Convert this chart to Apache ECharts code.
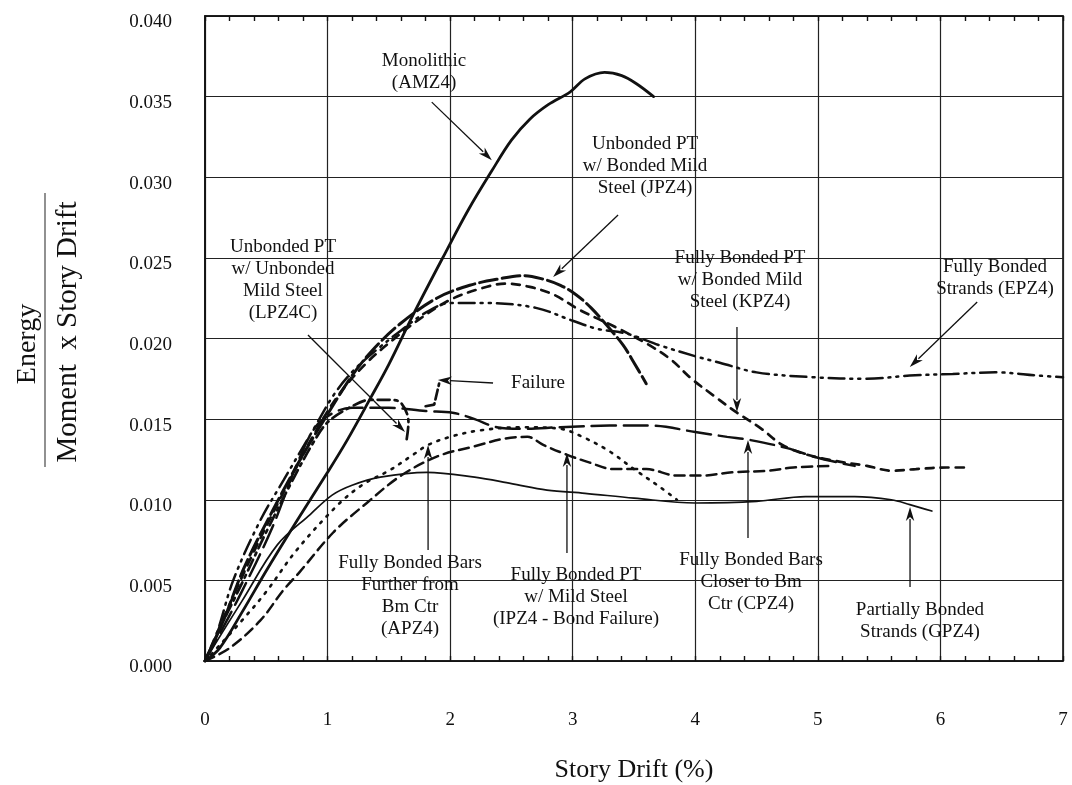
<!DOCTYPE html>
<html><head><meta charset="utf-8">
<script src="https://cdn.jsdelivr.net/npm/echarts@6/dist/echarts.min.js"></script>
<style>html,body{margin:0;padding:0;background:#fff}#c{width:1072px;height:785px}</style>
</head><body><div id="c"></div>
<script>
// ---- tick labels ----
const xTickLabels = ['0','1','2','3','4','5','6','7'];
const yTickLabels = ['0.000','0.005','0.010','0.015','0.020','0.025','0.030','0.035','0.040'];

// ---- series data [story drift %, energy ratio] ----
const AMZ4 = [[0,0],[0.12,0.0008],[0.3,0.003],[0.5,0.0056],[0.75,0.0087],[1.0,0.0117],[1.16,0.0137],[1.35,0.0163],[1.5,0.0184],[1.7,0.0215],[1.96,0.0253],[2.15,0.028],[2.34,0.0304],[2.5,0.0323],[2.65,0.0336],[2.8,0.0345],[2.98,0.0353],[3.1,0.0361],[3.26,0.0365],[3.4,0.0363],[3.52,0.0358],[3.66,0.035]];
const GPZ4 = [[0,0],[0.07,0.0009],[0.3,0.0037],[0.59,0.0072],[0.86,0.0091],[1.04,0.0103],[1.2,0.0109],[1.43,0.0114],[1.81,0.0117],[2.2,0.0114],[2.5,0.011],[2.79,0.0106],[3.1,0.0104],[3.5,0.0101],[4.0,0.0098],[4.5,0.0099],[4.9,0.0102],[5.3,0.0102],[5.6,0.0100],[5.75,0.0097],[5.93,0.0093]];
const JPZ4 = [[0,0],[0.15,0.0025],[0.32,0.0058],[0.55,0.0093],[0.8,0.0128],[1.0,0.0153],[1.2,0.0177],[1.37,0.0193],[1.59,0.0209],[1.89,0.0225],[2.16,0.0233],[2.4,0.0237],[2.6,0.0239],[2.75,0.0237],[2.9,0.0233],[3.03,0.0227],[3.15,0.0219],[3.28,0.0208],[3.41,0.0196],[3.5,0.0185],[3.6,0.0172]];
const KPZ4 = [[0,0],[0.2,0.0035],[0.4,0.0068],[0.65,0.0106],[0.9,0.0142],[1.1,0.0166],[1.32,0.0185],[1.53,0.0199],[1.75,0.0212],[2.0,0.0224],[2.25,0.0231],[2.45,0.0234],[2.65,0.0232],[2.85,0.0227],[3.05,0.0218],[3.35,0.0207],[3.6,0.0197],[3.8,0.0187],[3.97,0.0175],[4.16,0.0164],[4.34,0.0154],[4.54,0.0144],[4.71,0.0134],[4.91,0.0128],[5.15,0.0124],[5.4,0.0121],[5.6,0.0118],[5.8,0.0119],[6.05,0.0120],[6.22,0.0120]];
const EPZ4 = [[0,0],[0.1,0.0018],[0.23,0.005],[0.45,0.0087],[0.64,0.0112],[0.88,0.0143],[1.05,0.0165],[1.21,0.018],[1.4,0.0193],[1.6,0.0205],[1.8,0.0216],[2.0,0.0222],[2.3,0.0222],[2.7,0.0219],[3.0,0.0211],[3.2,0.0206],[3.44,0.0203],[3.7,0.0196],[4.0,0.0189],[4.2,0.0185],[4.5,0.0179],[4.96,0.0176],[5.4,0.0175],[5.75,0.0177],[6.1,0.0178],[6.45,0.0179],[6.8,0.0177],[7.0,0.0176]];
const LPZ4C = [[0,0],[0.12,0.002],[0.3,0.0048],[0.5,0.008],[0.7,0.011],[0.88,0.0135],[1.0,0.0148],[1.2,0.0158],[1.35,0.0162],[1.5,0.0162],[1.6,0.016],[1.66,0.0148],[1.64,0.0135]];
const LPZ4C_FAIL = [[1.80,0.0158],[1.87,0.0159],[1.91,0.0172]];
const CPZ4 = [[0,0],[0.1,0.0014],[0.3,0.0043],[0.55,0.0083],[0.75,0.0122],[0.9,0.0145],[1.05,0.0154],[1.2,0.0157],[1.5,0.0157],[1.8,0.0155],[2.02,0.0154],[2.2,0.015],[2.38,0.0145],[2.6,0.0144],[2.9,0.0145],[3.3,0.0146],[3.64,0.0146],[4.0,0.0142],[4.26,0.0139],[4.45,0.0137],[4.75,0.0132],[5.0,0.0126],[5.3,0.0121]];
const APZ4 = [[0,0],[0.3,0.0025],[0.5,0.0043],[0.75,0.0069],[1.1,0.0098],[1.3,0.011],[1.5,0.0118],[1.7,0.0128],[1.82,0.0134],[2.0,0.0139],[2.24,0.0143],[2.6,0.0145],[2.9,0.0144],[3.08,0.0139],[3.3,0.013],[3.5,0.0119],[3.71,0.0108],[3.85,0.0100]];
const IPZ4 = [[0,0],[0.2,0.0008],[0.45,0.0025],[0.64,0.0044],[0.77,0.0055],[1.05,0.008],[1.32,0.0098],[1.6,0.0115],[1.9,0.0127],[2.19,0.0133],[2.45,0.0138],[2.63,0.0139],[2.76,0.0134],[2.95,0.0128],[3.14,0.0123],[3.33,0.0119],[3.6,0.0119],[3.85,0.0115],[4.05,0.0115],[4.3,0.0117],[4.6,0.0118],[4.8,0.012],[5.1,0.0121]];

// ---- annotation texts and anchors (data coordinates) ----
const noteTexts = [
  'Monolithic\n(AMZ4)',
  'Unbonded PT\nw/ Bonded Mild\nSteel (JPZ4)',
  'Unbonded PT\nw/ Unbonded\nMild Steel\n(LPZ4C)',
  'Failure',
  'Fully Bonded PT\nw/ Bonded Mild\nSteel (KPZ4)',
  'Fully Bonded\nStrands (EPZ4)',
  'Fully Bonded Bars\nFurther from\nBm Ctr\n(APZ4)',
  'Fully Bonded PT\nw/ Mild Steel\n(IPZ4 - Bond Failure)',
  'Fully Bonded Bars\nCloser to Bm\nCtr (CPZ4)',
  'Partially Bonded\nStrands (GPZ4)'
];
const noteAt = [[1.787,0.0365],[3.59,0.0307],[0.636,0.02365],[2.717,0.01724],[4.365,0.02365],[6.445,0.02378],[1.673,0.00402],[3.027,0.00399],[4.455,0.00492],[5.833,0.0025]];
const arrowFrom = [[1.85,0.03466],[3.37,0.02766],[0.84,0.02022],[2.35,0.01724],[4.34,0.02071],[6.30,0.02226],[1.82,0.00688],[2.953,0.0067],[4.43,0.00763],[5.752,0.00459]];
const arrowTo = [[2.34,0.03106],[2.84,0.02381],[1.632,0.0142],[1.90,0.01743],[4.34,0.01544],[5.75,0.01823],[1.82,0.0134],[2.953,0.0129],[4.43,0.0137],[5.752,0.00955]];

const FONT = '"Liberation Serif","Times New Roman",serif';
const INK = '#111';
const chart = echarts.init(document.getElementById('c'), null, {renderer:'canvas'});

function mk(name, data, width, type, smooth){
  return {name, type:'line', data, showSymbol:false, symbol:'none', smooth: smooth===undefined?0.35:smooth,
    lineStyle:{color:INK, width, type, cap:'round'}, z:3, silent:true};
}
const axisCommon = {
  type:'value', min:0, max:7, interval:1,
  axisLine:{show:true, lineStyle:{color:INK, width:1.6}},
  axisTick:{show:true, inside:true, length:5, lineStyle:{color:INK, width:1.4}},
  minorTick:{show:true, splitNumber:5, length:5, lineStyle:{color:INK, width:1.4}}
};
chart.setOption({
  animation:false,
  grid:{left:205, right:9, top:16, bottom:124, show:true, borderColor:INK, borderWidth:1.6,
    containLabel:false, outerBoundsMode:'none'},
  xAxis:[
    Object.assign({}, axisCommon, {position:'bottom',
      splitLine:{show:true, lineStyle:{color:'#222', width:1.2}},
      axisLabel:{margin:50, fontFamily:FONT, fontSize:19, color:INK, formatter:v=>xTickLabels[Math.round(v)]},
      name:'Story Drift (%)', nameLocation:'middle', nameGap:96,
      nameTextStyle:{fontFamily:FONT, fontSize:26, color:INK}}),
    Object.assign({}, axisCommon, {position:'top', splitLine:{show:false}, axisLabel:{show:false}})
  ],
  yAxis:{type:'value', min:0, max:0.04, interval:0.005,
    axisLine:{show:true, lineStyle:{color:INK, width:1.6}},
    axisTick:{show:false},
    splitLine:{show:true, lineStyle:{color:'#222', width:1.2}},
    axisLabel:{margin:33, fontFamily:FONT, fontSize:19, color:INK, verticalAlign:'top', lineHeight:13,
      formatter:v=>yTickLabels[Math.round(v/0.005)]}},
  series:[
    mk('AMZ4', AMZ4, 2.8, 'solid'),
    mk('GPZ4', GPZ4, 1.7, 'solid'),
    mk('JPZ4', JPZ4, 3, [18,5]),
    mk('KPZ4', KPZ4, 2.7, [8,7]),
    mk('EPZ4', EPZ4, 2.5, [16,6,2,6,2,6]),
    mk('LPZ4C', LPZ4C, 2.7, [12,5,3,5]),
    mk('LPZ4C failure', LPZ4C_FAIL, 2.7, [10,4], false),
    mk('CPZ4', CPZ4, 2.5, [24,8]),
    mk('APZ4', APZ4, 2.6, [2,7]),
    mk('IPZ4', IPZ4, 2.5, [10,6])
  ]
});

// ---- annotations: texts, arrows, and y-axis title ----
const g = [];
const px = p => chart.convertToPixel({gridIndex:0}, p);
noteTexts.forEach((t,i)=>{
  const c = px(noteAt[i]);
  g.push({type:'text', x:c[0], y:c[1], z:10, silent:true,
    style:{text:t, font:'19px '+FONT, fill:INK, align:'center', verticalAlign:'middle', lineHeight:22}});
  const a = px(arrowFrom[i]), b = px(arrowTo[i]);
  const dx=b[0]-a[0], dy=b[1]-a[1], L=Math.hypot(dx,dy), ux=dx/L, uy=dy/L;
  const hl=14, hw=4.2;
  const bx=b[0]-ux*hl, by=b[1]-uy*hl;
  g.push({type:'line', z:10, silent:true, shape:{x1:a[0],y1:a[1],x2:bx+ux*2,y2:by+uy*2}, style:{stroke:INK, lineWidth:1.3}});
  g.push({type:'polygon', z:10, silent:true, shape:{points:[[b[0],b[1]],[bx-uy*hw,by+ux*hw],[bx+ux*4,by+uy*4],[bx+uy*hw,by-ux*hw]]}, style:{fill:INK}});
});
g.push({type:'text', x:27.5, y:344, rotation:Math.PI/2, silent:true,
  style:{text:'Energy', font:'28px '+FONT, fill:INK, align:'center', verticalAlign:'middle'}});
g.push({type:'line', silent:true, shape:{x1:45,y1:193,x2:45,y2:467}, style:{stroke:'#555', lineWidth:1.3}});
g.push({type:'text', x:68.5, y:332, rotation:Math.PI/2, silent:true,
  style:{text:'Moment  x Story Drift', font:'29px '+FONT, fill:INK, align:'center', verticalAlign:'middle'}});
chart.setOption({graphic:g});
</script>
</body></html>
